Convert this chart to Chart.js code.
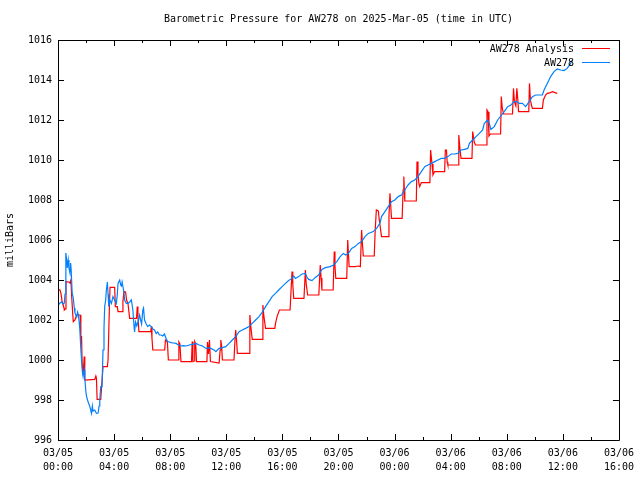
<!DOCTYPE html>
<html><head><meta charset="utf-8">
<script src="https://cdn.jsdelivr.net/npm/chart.js@4/dist/chart.umd.min.js"></script>
<style>html,body{margin:0;padding:0;background:#fff}canvas{display:block}</style>
</head><body>
<canvas id="c" width="640" height="480"></canvas>
<script>
const chartTitle = 'Barometric Pressure for AW278 on 2025-Mar-05 (time in UTC)';
const seriesNames = ['AW278 Analysis', 'AW278'];
const yAxisTitle = 'milliBars';
const xTickLabels = [['03/05','00:00'],['03/05','04:00'],['03/05','08:00'],['03/05','12:00'],['03/05','16:00'],['03/05','20:00'],['03/06','00:00'],['03/06','04:00'],['03/06','08:00'],['03/06','12:00'],['03/06','16:00']];
const yTickValues = [996,998,1000,1002,1004,1006,1008,1010,1012,1014,1016];

// hours since 03/05 00:00 UTC
const analysisHours = [0.02,0.14,0.21,0.30,0.43,0.45,0.52,0.57,0.78,0.85,0.92,0.97,1.04,1.09,1.21,1.33,1.58,1.63,1.68,1.72,1.79,1.87,1.91,2.62,2.70,2.74,2.79,3.05,3.10,3.17,3.21,3.52,3.57,3.64,3.71,4.04,4.09,4.23,4.28,4.61,4.63,4.70,4.82,4.89,4.99,5.11,5.60,5.65,5.70,5.77,6.62,6.65,6.70,6.76,7.61,7.66,7.80,7.87,8.56,8.62,8.69,8.77,9.52,9.57,9.62,9.72,9.75,9.82,9.88,10.62,10.66,10.73,10.80,10.87,11.49,11.56,11.61,11.67,11.72,12.55,12.62,12.67,12.73,12.79,13.62,13.67,13.69,13.76,13.85,14.56,14.61,14.68,14.80,15.46,15.51,15.62,15.79,16.55,16.62,16.69,16.74,16.81,17.54,17.64,17.70,17.80,18.60,18.70,18.76,18.82,19.62,19.70,19.75,19.81,20.59,20.66,20.71,20.76,21.18,21.42,21.56,21.65,21.70,21.77,22.55,22.62,22.70,22.84,22.91,23.07,23.55,23.60,23.67,23.72,23.78,24.54,24.61,24.66,24.70,24.73,25.55,25.60,25.67,25.74,25.79,25.91,26.52,26.57,26.67,26.74,26.86,27.57,27.62,27.70,27.75,27.80,28.53,28.58,28.67,28.74,29.52,29.57,29.68,29.77,30.55,30.59,30.67,30.73,30.83,31.56,31.61,31.68,31.77,32.41,32.48,32.55,32.65,32.72,32.79,32.84,33.57,33.62,33.69,33.76,33.83,34.54,34.61,34.77,34.89,35.13,35.25,35.60];
const analysisMbar = [1003.53,1003.5,1003.33,1002.9,1002.6,1002.5,1002.55,1003.92,1003.9,1003.85,1004.0,1003.25,1002.42,1001.92,1002.0,1002.25,1002.25,1000.83,1001.2,999.83,999.25,1000.17,999.0,999.03,999.2,999.1,998.03,998.03,998.58,999.25,999.67,999.67,1000.0,1002.0,1003.63,1003.63,1002.67,1002.67,1002.42,1002.42,1002.92,1003.42,1003.4,1003.0,1002.83,1002.08,1002.08,1002.67,1002.2,1001.42,1001.42,1001.67,1001.1,1000.5,1000.5,1001.0,1000.9,1000.0,1000.0,1000.9,1000.8,999.92,999.92,1000.92,999.92,999.95,1000.92,1000.8,999.92,999.92,1000.9,1000.3,1001.0,999.92,999.85,1000.5,1001.0,1000.7,1000.0,1000.0,1001.0,1001.5,1001.0,1000.33,1000.33,1001.5,1002.25,1001.6,1001.03,1001.03,1002.75,1002.2,1001.58,1001.58,1001.83,1002.17,1002.5,1002.5,1003.5,1004.42,1003.8,1003.08,1003.08,1004.5,1003.8,1003.25,1003.25,1004.75,1004.1,1003.5,1003.5,1005.42,1004.7,1004.08,1004.08,1006.0,1005.3,1004.67,1004.67,1004.7,1004.67,1006.5,1005.9,1005.2,1005.2,1006.5,1007.5,1007.45,1007.0,1006.17,1006.17,1007.17,1008.33,1007.8,1007.08,1007.08,1008.5,1009.17,1008.5,1007.95,1007.95,1009.92,1009.3,1008.8,1008.67,1008.87,1008.87,1010.5,1009.8,1009.25,1009.42,1009.42,1010.5,1010.5,1009.9,1009.75,1009.75,1011.25,1010.5,1010.08,1010.08,1011.42,1010.9,1010.75,1010.75,1012.5,1012.4,1011.2,1011.3,1011.3,1013.17,1012.6,1012.3,1012.3,1013.58,1012.9,1012.7,1013.58,1013.0,1012.42,1012.42,1013.83,1013.0,1012.75,1012.58,1012.58,1013.0,1013.25,1013.33,1013.37,1013.42,1013.33];

const stationHours = [0.02,0.14,0.26,0.38,0.45,0.50,0.55,0.57,0.64,0.66,0.73,0.78,0.85,0.90,0.94,1.01,1.09,1.16,1.21,1.33,1.40,1.44,1.51,1.56,1.63,1.68,1.74,1.79,1.87,1.91,1.99,2.04,2.15,2.27,2.39,2.45,2.50,2.62,2.74,2.86,2.93,2.98,3.05,3.14,3.21,3.28,3.33,3.40,3.45,3.52,3.57,3.62,3.69,3.81,3.92,4.04,4.16,4.22,4.28,4.40,4.47,4.52,4.57,4.63,4.70,4.75,4.87,4.99,5.11,5.23,5.34,5.41,5.46,5.53,5.62,5.70,5.82,5.89,5.96,6.05,6.10,6.17,6.29,6.40,6.52,6.65,6.76,6.88,7.00,7.11,7.23,7.35,7.47,7.59,7.71,7.82,7.94,8.06,8.23,8.42,8.58,8.77,8.94,9.13,9.36,9.60,9.84,10.07,10.30,10.55,10.71,10.90,11.13,11.26,11.37,11.49,11.72,11.96,12.20,12.43,12.67,12.91,13.14,13.38,13.62,13.85,14.09,14.33,14.56,14.80,15.04,15.27,15.51,15.74,15.98,16.22,16.45,16.69,16.81,16.93,17.16,17.40,17.64,17.75,17.87,18.11,18.35,18.58,18.82,19.06,19.41,19.65,19.88,20.12,20.35,20.52,20.71,20.94,21.18,21.42,21.65,21.89,22.13,22.48,22.72,22.96,23.07,23.31,23.55,23.78,24.02,24.26,24.49,24.73,24.96,25.20,25.44,25.67,25.91,26.15,26.38,26.62,26.86,27.09,27.33,27.57,27.80,28.04,28.28,28.51,28.74,28.98,29.22,29.34,29.57,29.81,30.05,30.28,30.40,30.64,30.76,30.87,31.11,31.35,31.57,31.82,32.06,32.30,32.53,32.70,32.89,33.12,33.35,33.60,33.83,34.06,34.30,34.54,34.66,34.89,35.13,35.37,35.60,35.84,36.08,36.31,36.55,36.67];
const stationMbar = [1002.75,1002.85,1002.9,1002.8,1002.85,1003.3,1004.3,1005.35,1004.9,1004.6,1005.0,1004.6,1004.35,1004.85,1004.5,1003.35,1003.1,1002.6,1002.35,1002.15,1002.4,1002.3,1001.9,1001.5,1000.5,1000.0,999.4,999.17,999.5,999.1,998.4,998.17,997.9,997.67,997.33,997.7,997.45,997.5,997.33,997.35,997.7,998.0,998.67,998.67,1000.5,1001.6,1002.67,1003.0,1003.5,1003.9,1003.3,1002.67,1003.0,1002.83,1003.17,1003.0,1002.83,1003.2,1003.83,1004.0,1003.75,1003.7,1003.9,1003.9,1003.4,1003.0,1002.83,1002.83,1002.9,1003.0,1002.5,1001.8,1001.4,1001.9,1001.7,1001.9,1002.25,1002.0,1001.8,1002.5,1002.6,1002.0,1001.8,1001.67,1001.75,1001.67,1001.55,1001.5,1001.33,1001.4,1001.25,1001.25,1001.2,1001.3,1001.08,1000.92,1000.9,1000.87,1000.85,1000.83,1000.75,1000.7,1000.72,1000.7,1000.75,1000.78,1000.83,1000.75,1000.7,1000.58,1000.62,1000.58,1000.5,1000.42,1000.5,1000.58,1000.62,1000.67,1000.83,1001.0,1001.17,1001.42,1001.5,1001.58,1001.67,1001.83,1002.0,1002.17,1002.38,1002.67,1002.92,1003.17,1003.33,1003.5,1003.67,1003.83,1003.97,1004.08,1004.2,1004.08,1004.17,1004.3,1004.33,1004.15,1004.03,1003.97,1004.13,1004.25,1004.53,1004.62,1004.67,1004.75,1004.92,1005.17,1005.33,1005.25,1005.33,1005.58,1005.67,1005.83,1005.92,1006.17,1006.33,1006.42,1006.58,1006.85,1007.17,1007.42,1007.67,1007.92,1008.0,1008.17,1008.25,1008.5,1008.75,1008.92,1009.0,1009.17,1009.42,1009.67,1009.75,1009.83,1009.92,1010.0,1010.08,1010.08,1010.17,1010.3,1010.3,1010.33,1010.5,1010.53,1010.58,1010.83,1011.0,1011.17,1011.33,1011.5,1011.83,1012.0,1011.83,1011.53,1011.67,1012.0,1012.2,1012.42,1012.67,1012.75,1012.92,1012.92,1012.83,1012.83,1012.67,1012.92,1013.17,1013.25,1013.25,1013.25,1013.5,1013.83,1014.17,1014.42,1014.55,1014.5,1014.47,1014.58,1014.83,1015.0];

function pairs(xs, ys) {
  const n = Math.min(xs.length, ys.length);
  const out = [];
  for (let i = 0; i < n; i++) out.push({x: xs[i], y: ys[i]});
  return out;
}

const FONT = '"DejaVu Sans Mono", "Liberation Mono", monospace';
const colors = ['#ff0000', '#0080ff'];

const framePlugin = {
  id: 'frame',
  afterDatasetsDraw(chart) {
    const {ctx, chartArea: a, scales} = chart;
    const xs = scales.x, ys = scales.y;
    ctx.save();
    ctx.strokeStyle = '#000';
    ctx.lineWidth = 1;
    ctx.beginPath();
    ctx.rect(Math.round(a.left) + 0.5, Math.round(a.top) + 0.5, Math.round(a.right - a.left), Math.round(a.bottom - a.top));
    ctx.stroke();
    ctx.beginPath();
    for (let h = 0; h <= 40; h += 2) {
      const px = Math.round(xs.getPixelForValue(h)) + 0.5;
      const len = (h % 4 === 0) ? 6 : 3;
      ctx.moveTo(px, a.bottom); ctx.lineTo(px, a.bottom - len);
      ctx.moveTo(px, a.top); ctx.lineTo(px, a.top + len);
    }
    yTickValues.forEach(v => {
      const py = Math.round(ys.getPixelForValue(v)) + 0.5;
      ctx.moveTo(a.left, py); ctx.lineTo(a.left + 6, py);
      ctx.moveTo(a.right, py); ctx.lineTo(a.right - 6, py);
    });
    ctx.stroke();
    ctx.fillStyle = '#000';
    ctx.font = '10px ' + FONT;
    ctx.textAlign = 'center';
    ctx.textBaseline = 'middle';
    ctx.fillText(chartTitle, (a.left + a.right) / 2, 19);
    ctx.textAlign = 'right';
    chart.data.datasets.forEach((ds, i) => {
      const y = 49 + i * 14;
      ctx.fillStyle = '#000';
      ctx.fillText(ds.label, 574, y);
      ctx.strokeStyle = ds.borderColor;
      ctx.beginPath();
      ctx.moveTo(582, y - 0.5); ctx.lineTo(610, y - 0.5);
      ctx.stroke();
    });
    ctx.restore();
  }
};

new Chart(document.getElementById('c'), {
  type: 'line',
  data: {
    datasets: [
      {label: seriesNames[0], data: pairs(analysisHours, analysisMbar), borderColor: colors[0], borderWidth: 1.2, pointRadius: 0, tension: 0, fill: false, order: 1},
      {label: seriesNames[1], data: pairs(stationHours, stationMbar), borderColor: colors[1], borderWidth: 1.2, pointRadius: 0, tension: 0, fill: false, order: 0}
    ]
  },
  options: {
    responsive: false,
    devicePixelRatio: 1,
    animation: false,
    layout: {padding: {top: 40, right: 18, left: 0, bottom: 0}},
    plugins: {legend: {display: false}, title: {display: false}, tooltip: {enabled: false}},
    scales: {
      x: {
        type: 'linear', min: 0, max: 40,
        afterFit: s => { s.height = 40; },
        grid: {display: false, drawTicks: false},
        border: {display: false},
        ticks: {
          stepSize: 4, autoSkip: false, maxRotation: 0, padding: 6, color: '#000',
          font: {family: FONT, size: 10, lineHeight: 1.4},
          callback: v => xTickLabels[Math.round(v / 4)] || ''
        }
      },
      y: {
        type: 'linear', min: 996, max: 1016,
        afterFit: s => { s.width = 58; },
        grid: {display: false, drawTicks: false},
        border: {display: false},
        title: {display: true, text: yAxisTitle, color: '#000', font: {family: FONT, size: 10}, padding: {top: 4, bottom: 0}},
        ticks: {stepSize: 2, padding: 6, color: '#000', font: {family: FONT, size: 10}, callback: v => String(v)}
      }
    }
  },
  plugins: [framePlugin]
});
</script>
</body></html>
